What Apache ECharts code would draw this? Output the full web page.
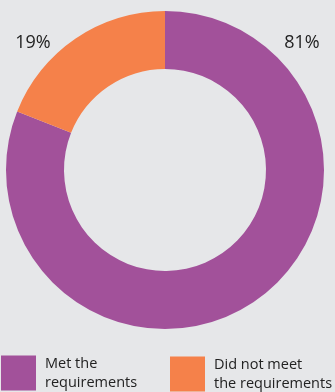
<!DOCTYPE html>
<html>
<head>
<meta charset="utf-8">
<script src="https://cdn.jsdelivr.net/npm/echarts@6/dist/echarts.min.js"></script>
<style>
  html, body { margin: 0; padding: 0; background: #e6e7e9; }
  #chart { width: 335px; height: 392px; }
</style>
</head>
<body>
<div id="chart"></div>
<script>
const categories = ['Met the\nrequirements', 'Did not meet\nthe requirements'];
const values = [81, 19];
const colors = ['#a2519a', '#f5814a'];
// where each percentage label sits (px)
const labelSpots = [[302, 43], [33, 43]];

const chart = echarts.init(document.getElementById('chart'));
const font = 'Open Sans, DejaVu Sans, sans-serif';

const legendText = { color: '#222', fontFamily: font, fontSize: 14.5, lineHeight: 19, padding: [0, 0, 0, 4] };

chart.setOption({
  backgroundColor: '#e6e7e9',
  animation: false,
  color: colors,
  legend: [
    {
      data: [categories[0]],
      left: 1, top: 354,
      itemWidth: 35, itemHeight: 35, itemGap: 0,
      icon: 'rect',
      selectedMode: false,
      textStyle: legendText,
      padding: 0
    },
    {
      data: [categories[1]],
      left: 170, top: 355,
      itemWidth: 35, itemHeight: 35, itemGap: 0,
      icon: 'rect',
      selectedMode: false,
      textStyle: legendText,
      padding: 0
    }
  ],
  series: [{
    type: 'pie',
    center: [165, 170],
    radius: [101, 159],
    startAngle: 90,
    clockwise: true,
    silent: true,
    data: categories.map((c, i) => ({ name: c, value: values[i] })),
    label: {
      show: true,
      position: 'outside',
      formatter: '{c}%',
      color: '#222',
      fontFamily: font,
      fontSize: 18,
      overflow: 'none'
    },
    labelLine: { show: false },
    labelLayout: (p) => ({
      x: labelSpots[p.dataIndex][0],
      y: labelSpots[p.dataIndex][1],
      align: 'center',
      verticalAlign: 'middle'
    })
  }]
});
</script>
</body>
</html>
